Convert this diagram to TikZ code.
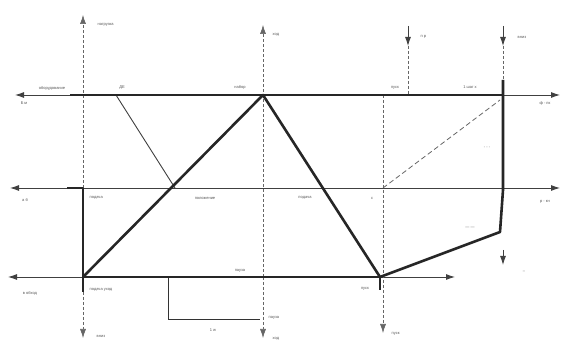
\documentclass[tikz,border=0pt]{standalone}
\usepackage{fontspec}
\setmainfont{Liberation Sans}
\usetikzlibrary{arrows.meta}
\begin{document}
\begin{tikzpicture}[x=1pt,y=-1pt,
  thinline/.style={line width=0.9pt, draw=black!75},
  dashline/.style={line width=0.6pt, draw=black!60, dash pattern=on 3pt off 2pt},
  heavy/.style={line width=2.6pt, draw=black!85, line join=round},
  arr/.style={-{Latex[length=9pt,width=6pt]}},
  lbl/.style={font=\fontsize{4}{5}\selectfont, text=black!65, inner sep=0.5pt}]
\useasboundingbox[fill=white] (0,0) rectangle (566,344);
% key points
\coordinate (A) at (83,277);
\coordinate (B) at (263,95);
\coordinate (C) at (380,277);
\coordinate (D) at (503,95);
\coordinate (E) at (500,232);
\coordinate (F) at (175,188);
\coordinate (G) at (383,188);
\coordinate (H) at (116,95);
% horizontal axes
\draw[thinline, arr] (70,95) -- (15,95);
\draw[thinline, arr] (D) -- (560,95);
\draw[thinline, arr] (83,188) -- (10,188);
\draw[thinline, arr] (83,188) -- (560,188);
\draw[thinline, arr] (A) -- (8,277);
\draw[thinline, arr] (C) -- (455,277);
% vertical axes
\draw[dashline, arr] (83,188) -- (83,15);
\draw[dashline, arr] (83,292) -- (83,338);
\draw[dashline, arr] (263,277) -- (263,25);
\draw[dashline, arr] (263,277) -- (263,338);
\draw[dashline, arr] (383,95) -- (383,333);
\draw[thinline, arr] (408,26) -- (408,46);
\draw[dashline] (408,46) -- (408,95);
\draw[thinline, arr] (503,26) -- (503,46);
\draw[dashline] (503,46) -- (503,80);
\draw[thinline, arr] (503,250) -- (503,265);
% thin and dashed diagonals
\draw[thinline] (H) -- (F);
\draw[dashline, line width=0.8pt, dash pattern=on 5pt off 3pt] (G) -- (500,100);
% bracket
\draw[line width=1pt, draw=black!80] (168,277) -- (168,320) -- (260,320);
% heavy lines
\draw[heavy] (70,95) -- (D);
\draw[heavy] (67,188) -- (83,188) -- (83,292);
\draw[heavy] (A) -- (B) -- (C);
\draw[heavy] (A) -- (C);
\draw[heavy] (380,290) -- (C);
\draw[heavy] (503,80) -- (503,190) -- (E) -- (C);
% labels
\node[lbl, anchor=west] (l1) at (97,25) {нагрузка};
\node[lbl] (l2) at (52,88) {оборудование};
\node[lbl] (l3) at (24,103) {Б\,м};
\node[lbl] (l4) at (122,88) {ДЕ};
\node[lbl] (l5) at (240,87) {набор};
\node[lbl, anchor=west] (l6) at (272,35) {ход};
\node[lbl, anchor=west] (l7) at (420,37) {п р};
\node[lbl, anchor=west] (l8) at (517,37) {вниз};
\node[lbl] (l9) at (395,88) {пуск};
\node[lbl] (l10) at (470,87) {1 шаг х};
\node[lbl] (l11) at (545,103) {ф - пк};
\node[lbl] (l12) at (487,148) {- - -};
\node[lbl] (l13) at (25,200) {а б};
\node[lbl, anchor=west] (l14) at (89,198) {подача};
\node[lbl] (l15) at (205,198) {положение};
\node[lbl] (l16) at (305,198) {подача};
\node[lbl] (l17) at (372,198) {с};
\node[lbl] (l18) at (545,202) {р - кн};
\node[lbl] (l19) at (470,228) {--- ---};
\node[lbl] (l20) at (30,293) {в обход};
\node[lbl, anchor=west] (l21) at (89,290) {подача уход};
\node[lbl] (l22) at (240,271) {пауза};
\node[lbl] (l23) at (365,289) {пуск};
\node[lbl, anchor=west] (l24) at (268,318) {пауза};
\node[lbl] (l25) at (213,330) {1 w};
\node[lbl, anchor=west] (l26) at (96,336) {вниз};
\node[lbl, anchor=west] (l27) at (272,339) {ход};
\node[lbl, anchor=west] (l28) at (391,334) {пуск};
\node[lbl] (l29) at (524,272) {--};
\end{tikzpicture}
\end{document}
